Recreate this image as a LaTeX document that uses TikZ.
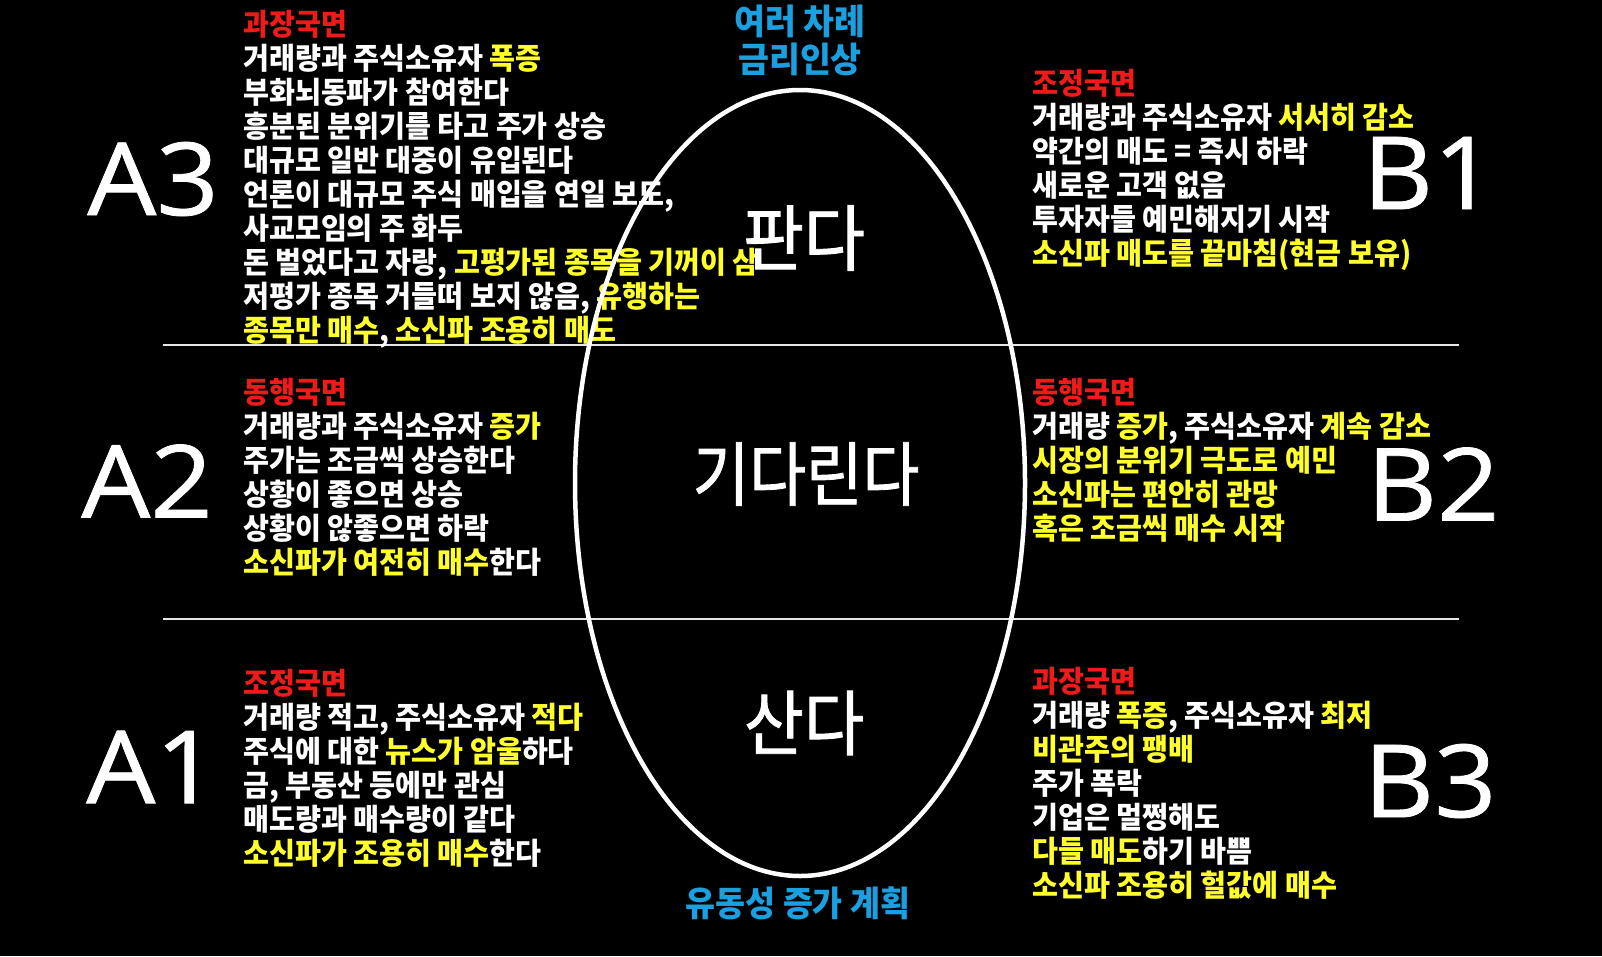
\documentclass[tikz,border=0pt]{standalone}
\usepackage{fontspec}
\usetikzlibrary{shapes.geometric}
\newfontfamily\krtxt[FakeStretch=0.94]{Noto Sans CJK KR}
\newfontfamily\krbig[FakeStretch=0.92,FakeBold=1.2]{Noto Sans CJK KR}
\newfontfamily\krmid[FakeStretch=0.88,FakeBold=1.2]{Noto Sans CJK KR}
\newfontfamily\krblue[FakeStretch=0.96]{Noto Sans CJK KR}
\newfontfamily\krbluew[FakeStretch=0.93]{Noto Sans CJK KR}
\newfontfamily\latbig[FakeStretch=1.08,FakeBold=0.8]{Open Sans}
\definecolor{hred}{HTML}{F01A1A}
\definecolor{hyel}{HTML}{FFFF2A}
\definecolor{hblue}{HTML}{1AA0E0}
\definecolor{hline}{HTML}{E6E6E6}
\newcommand\hlY[1]{\textcolor{hyel}{#1}}
\newcommand\hlR[1]{\textcolor{hred}{#1}}
\begin{document}
\begin{tikzpicture}[x=1pt,y=-1pt,
  ln/.style={anchor=west,inner sep=0pt,text=white,font=\krtxt\bfseries\fontsize{30}{34}\selectfont,text height=26pt,text depth=1pt},
  big/.style={inner sep=0pt,text=white,font=\latbig\fontsize{101}{110}\selectfont},
  act/.style={inner sep=0pt,text=white},
  blue/.style={inner sep=0pt,text=hblue,font=\krblue\bfseries\fontsize{35}{40}\selectfont},
  sep/.style={draw=hline,line width=2pt}]
\fill[black] (0,0) rectangle (1602,956);
\useasboundingbox (0,0) rectangle (1602,956);
% separators
\coordinate (s1l) at (163,345); \coordinate (s1r) at (1459,345);
\coordinate (s2l) at (163,619); \coordinate (s2r) at (1459,619);
\draw[sep] (s1l) -- (s1r);
\draw[sep] (s2l) -- (s2r);
% A3 block
\node[ln] (a3h) at (243,22.5) {\hlR{과장국면}};
\node[ln] (a3a) at (243,56.5) {거래량과 주식소유자 \hlY{폭증}};
\node[ln] (a3b) at (243,90.5) {부화뇌동파가 참여한다};
\node[ln] (a3c) at (243,124.5) {흥분된 분위기를 타고 주가 상승};
\node[ln] (a3d) at (243,158.5) {대규모 일반 대중이 유입된다};
\node[ln] (a3e) at (243,192.5) {언론이 대규모 주식 매입을 연일 보도,};
\node[ln] (a3f) at (243,226.5) {사교모임의 주 화두};
\node[ln] (a3g) at (243,260.5) {돈 벌었다고 자랑, \hlY{고평가된 종목을 기꺼이 삼}};
\node[ln] (a3i) at (243,294.5) {저평가 종목 거들떠 보지 않음, \hlY{유행하는}};
\node[ln] (a3j) at (243,328.5) {\hlY{종목만 매수}, \hlY{소신파 조용히 매도}};
% A2 block
\node[ln] (a2h) at (243,391) {\hlR{동행국면}};
\node[ln] (a2a) at (243,425) {거래량과 주식소유자 \hlY{증가}};
\node[ln] (a2b) at (243,459) {주가는 조금씩 상승한다};
\node[ln] (a2c) at (243,493) {상황이 좋으면 상승};
\node[ln] (a2d) at (243,527) {상황이 않좋으면 하락};
\node[ln] (a2e) at (243,561) {\hlY{소신파가 여전히 매수}한다};
% A1 block
\node[ln] (a1h) at (243,681.5) {\hlR{조정국면}};
\node[ln] (a1a) at (243,715.5) {거래량 적고, 주식소유자 \hlY{적다}};
\node[ln] (a1b) at (243,749.5) {주식에 대한 \hlY{뉴스가 암울}하다};
\node[ln] (a1c) at (243,783.5) {금, 부동산 등에만 관심};
\node[ln] (a1d) at (243,817.5) {매도량과 매수량이 같다};
\node[ln] (a1e) at (243,851.5) {\hlY{소신파가 조용히 매수}한다};
% B1 block
\node[ln] (b1h) at (1032,82) {\hlR{조정국면}};
\node[ln] (b1a) at (1032,116) {거래량과 주식소유자 \hlY{서서히 감소}};
\node[ln] (b1b) at (1032,150) {약간의 매도 = 즉시 하락};
\node[ln] (b1c) at (1032,184) {새로운 고객 없음};
\node[ln] (b1d) at (1032,218) {투자자들 예민해지기 시작};
\node[ln] (b1e) at (1032,252) {\hlY{소신파 매도를 끝마침(현금 보유)}};
% B2 block
\node[ln] (b2h) at (1032,391) {\hlR{동행국면}};
\node[ln] (b2a) at (1032,425) {거래량 \hlY{증가}, 주식소유자 \hlY{계속 감소}};
\node[ln] (b2b) at (1032,459) {\hlY{시장의 분위기 극도로 예민}};
\node[ln] (b2c) at (1032,493) {\hlY{소신파는 편안히 관망}};
\node[ln] (b2d) at (1032,527) {\hlY{혹은 조금씩 매수 시작}};
% B3 block
\node[ln] (b3h) at (1032,679.5) {\hlR{과장국면}};
\node[ln] (b3a) at (1032,713.5) {거래량 \hlY{폭증}, 주식소유자 \hlY{최저}};
\node[ln] (b3b) at (1032,747.5) {\hlY{비관주의 팽배}};
\node[ln] (b3c) at (1032,781.5) {주가 폭락};
\node[ln] (b3d) at (1032,815.5) {기업은 멀쩡해도};
\node[ln] (b3e) at (1032,849.5) {\hlY{다들 매도}하기 바쁨};
\node[ln] (b3f) at (1032,883.5) {\hlY{소신파 조용히 헐값에 매수}};
% ellipse
\node[draw=white,line width=4.5pt,ellipse,minimum width=450pt,minimum height=786pt,inner sep=0pt] (ell) at (800,483) {};
% actions
\node[act,font=\krbig\fontsize{72}{80}\selectfont] (sell) at (804,238) {판다};
\node[act,font=\krmid\fontsize{70}{76}\selectfont] (wait) at (806,474) {기다린다};
\node[act,font=\krbig\fontsize{71}{78}\selectfont] (buy) at (804,723) {산다};
% blue labels
\node[blue] (t1) at (800,21) {여러 차례};
\node[blue] (t2) at (800,59) {금리인상};
\node[blue,font=\krbluew\bfseries\fontsize{35}{40}\selectfont] (t3) at (798,903) {유동성 증가 계획};
% big letters
\node[big] (A3) at (153,179) {A3};
\node[big] (A2) at (147,481) {A2};
\node[big] (A1) at (152,767) {A1};
\node[big] (B1) at (1429,173) {B1};
\node[big] (B2) at (1433,484) {B2};
\node[big] (B3) at (1430,781) {B3};
\end{tikzpicture}
\end{document}
